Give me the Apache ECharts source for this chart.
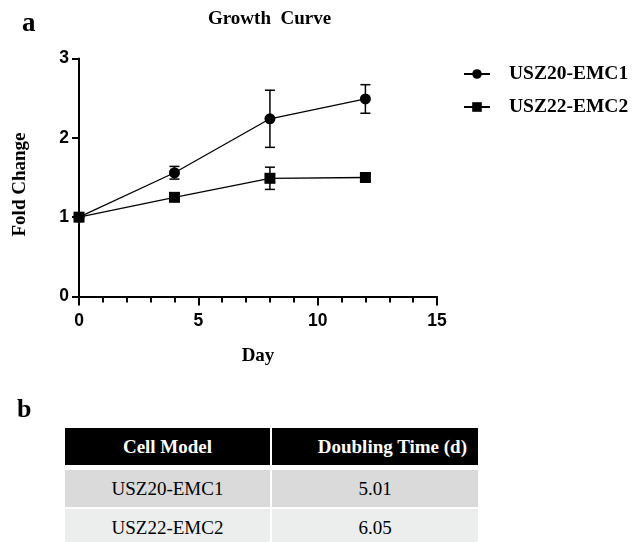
<!DOCTYPE html>
<html>
<head>
<meta charset="utf-8">
<script src="https://cdn.jsdelivr.net/npm/echarts@6/dist/echarts.min.js"></script>
<style>
  body { margin: 0; background: #fff; }
  #chart { position: absolute; left: 0; top: 0; width: 639px; height: 400px; }
  #lblB { position: absolute; left: 17px; top: 394px; font: bold 26px "Liberation Serif", serif; }
  #tbl { position: absolute; left: 65px; top: 428px; display: grid;
         grid-template-columns: 205px 206px; column-gap: 2px; }
  #tbl div { height: 37px; font: 19px "Liberation Serif", serif; line-height: 37px; text-align: center; }
  #tbl .hd { background: #000; color: #fff; font-weight: bold; margin-bottom: 5px; }
  #tbl .r1 { background: #d9dad9; margin-bottom: 2px; }
  #tbl .r2 { background: #eceeed; }
</style>
</head>
<body>
<div id="chart"></div>
<div id="lblB">b</div>
<div id="tbl"></div>
<script>
// growth curve data
var days = [0, 4, 8, 12];
var emc1Mean = [1, 1.56, 2.24, 2.49];
var emc1Err = [0, 0.08, 0.36, 0.18];
var emc2Mean = [1, 1.25, 1.49, 1.50];
var emc2Err = [0, 0, 0.14, 0.04];
var seriesNames = ['USZ20-EMC1', 'USZ22-EMC2'];

// doubling time table
var tableHead = ['Cell Model', 'Doubling Time (d)'];
var cellModels = ['USZ20-EMC1', 'USZ22-EMC2'];
var doublingTimes = ['5.01', '6.05'];

var serif = '"Liberation Serif", "Times New Roman", serif';
var sans = '"Liberation Sans", Arial, sans-serif';

function pts(mean) {
  return days.map(function (d, i) { return [d, mean[i]]; });
}
function errPts(mean, err) {
  return days.map(function (d, i) { return [d, mean[i] - err[i], mean[i] + err[i]]; });
}

function renderErr(params, api) {
  var x = api.value(0), lo = api.value(1), hi = api.value(2);
  if (hi - lo <= 0) return null;
  var t = api.coord([x, hi]);
  var b = api.coord([x, lo]);
  var w = 5;
  var st = { stroke: '#000', lineWidth: 1.5 };
  return {
    type: 'group',
    children: [
      { type: 'line', shape: { x1: t[0], y1: t[1], x2: b[0], y2: b[1] }, style: st },
      { type: 'line', shape: { x1: t[0] - w, y1: t[1], x2: t[0] + w, y2: t[1] }, style: st },
      { type: 'line', shape: { x1: b[0] - w, y1: b[1], x2: b[0] + w, y2: b[1] }, style: st }
    ]
  };
}

var chart = echarts.init(document.getElementById('chart'));
var option = {
  animation: false,
  title: [
    { text: 'a', left: 17, top: 6, textStyle: { fontFamily: serif, fontWeight: 'bold', fontSize: 27, color: '#000' } },
    { text: 'Growth  Curve', left: 203, top: 5, textStyle: { fontFamily: serif, fontWeight: 'bold', fontSize: 19, color: '#000' } }
  ],
  legend: {
    data: seriesNames,
    orient: 'vertical',
    left: 463,
    top: 64,
    padding: 0,
    itemWidth: 26,
    itemHeight: 12,
    itemGap: 13,
    textStyle: { fontFamily: serif, fontWeight: 'bold', fontSize: 19.5, color: '#000', padding: [0, 0, 0, 14] }
  },
  grid: { left: 79, right: 202, top: 58.5, bottom: 103.5 },
  xAxis: {
    type: 'value',
    min: 0, max: 15, interval: 5,
    name: 'Day',
    nameLocation: 'middle',
    nameGap: 50,
    nameTextStyle: { fontFamily: serif, fontWeight: 'bold', fontSize: 19, color: '#000' },
    axisLine: { lineStyle: { color: '#000', width: 2 } },
    axisTick: { show: true, length: 9, lineStyle: { color: '#000', width: 2 } },
    minorTick: { show: true, splitNumber: 5, length: 6, lineStyle: { color: '#000', width: 2 } },
    axisLabel: { fontFamily: sans, fontWeight: 'bold', fontSize: 17.5, color: '#000', margin: 16 },
    splitLine: { show: false },
    minorSplitLine: { show: false }
  },
  yAxis: {
    type: 'value',
    min: 0, max: 3, interval: 1,
    name: 'Fold Change',
    nameLocation: 'middle',
    nameRotate: 90,
    nameGap: 49,
    nameTextStyle: { fontFamily: serif, fontWeight: 'bold', fontSize: 19, color: '#000', padding: [0, 0, 0, -14] },
    axisLine: { show: true, lineStyle: { color: '#000', width: 2 } },
    axisTick: { show: true, length: 7, lineStyle: { color: '#000', width: 2 } },
    axisLabel: { fontFamily: sans, fontWeight: 'bold', fontSize: 17.5, color: '#000', margin: 10 },
    splitLine: { show: false }
  },
  series: [
    {
      name: 'err1', type: 'custom', renderItem: renderErr,
      data: errPts(emc1Mean, emc1Err), encode: { x: 0, y: [1, 2] }, z: 1
    },
    {
      name: 'err2', type: 'custom', renderItem: renderErr,
      data: errPts(emc2Mean, emc2Err), encode: { x: 0, y: [1, 2] }, z: 1
    },
    {
      name: seriesNames[0], type: 'line', data: pts(emc1Mean),
      symbol: 'circle', symbolSize: 11,
      itemStyle: { color: '#000' }, lineStyle: { color: '#000', width: 1.3 }, z: 3
    },
    {
      name: seriesNames[1], type: 'line', data: pts(emc2Mean),
      symbol: 'rect', symbolSize: 11,
      itemStyle: { color: '#000' }, lineStyle: { color: '#000', width: 1.3 }, z: 3
    }
  ]
};
chart.setOption(option);

// build table from arrays
var tbl = document.getElementById('tbl');
var html = '<div class="hd">' + tableHead[0] + '</div>' +
  '<div class="hd" style="text-align:right;padding-right:11px;width:195px">' + tableHead[1] + '</div>';
for (var i = 0; i < cellModels.length; i++) {
  var cls = i === 0 ? 'r1' : 'r2';
  html += '<div class="' + cls + '">' + cellModels[i] + '</div><div class="' + cls + '">' + doublingTimes[i] + '</div>';
}
tbl.innerHTML = html;
</script>
</body>
</html>
